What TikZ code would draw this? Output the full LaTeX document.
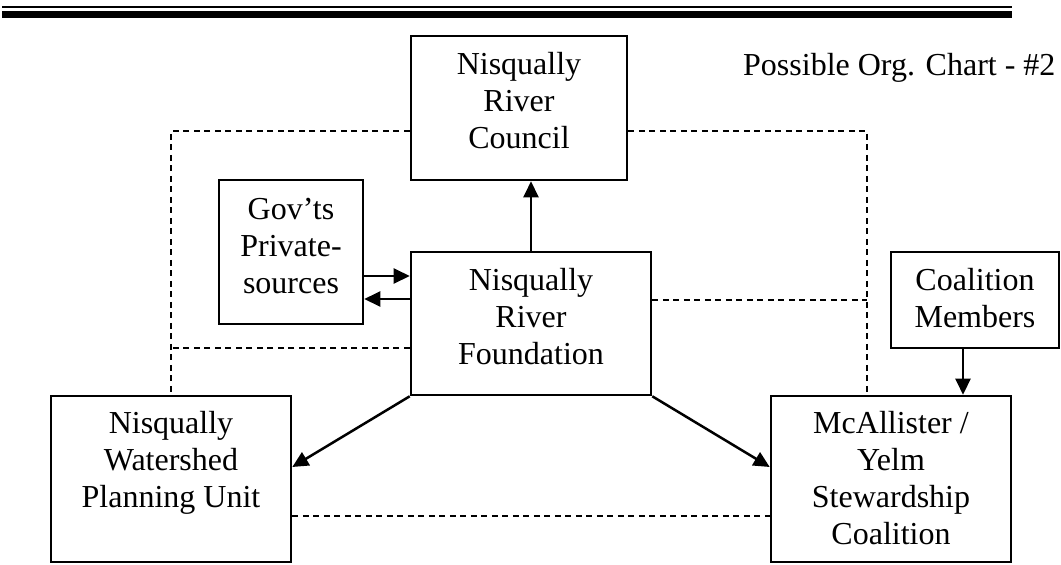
\documentclass[tikz,border=0pt]{standalone}
\usepackage{fontspec}
\setmainfont{Liberation Serif}
\usetikzlibrary{arrows.meta,calc}
\newcommand{\mystack}[1]{\begin{tabular}[t]{@{}c@{}}#1\end{tabular}}
\begin{document}
\begin{tikzpicture}[x=1pt,y=-1pt,
  box/.style={draw,line width=2.6pt,inner sep=0pt},
  lbl/.style={anchor=base,inner sep=0pt,font=\fontsize{32}{37}\selectfont},
  arr/.style={line width=2.5pt,-{Triangle[length=16pt,width=15pt]}},
  dline/.style={line width=1.8pt,dash pattern=on 6pt off 4.5pt}]
\useasboundingbox (0,0) rectangle (1061,565);
% header rules
\fill (2,6) rectangle (1012,8.3);
\fill (2,11) rectangle (1012,18);
% title
\node[anchor=base west,inner sep=0pt,font=\fontsize{32}{37}\selectfont] (title) at (743,75) {Possible Org. Chart - \#2};
% boxes
\node[box,minimum width=216pt,minimum height=144pt] (council) at (519,108) {};
\node[box,minimum width=144pt,minimum height=144pt] (gov) at (291,252) {};
\node[box,minimum width=240pt,minimum height=143pt] (found) at (531,323.5) {};
\node[box,minimum width=168pt,minimum height=96pt] (coal) at (975,300) {};
\node[box,minimum width=240pt,minimum height=166pt] (plan) at (171,479) {};
\node[box,minimum width=240pt,minimum height=166pt] (mca) at (891,479) {};
% labels
\node[lbl] (councilT) at ($(council.north)+(0,40)$) {\mystack{Nisqually\\River\\Council}};
\node[lbl] (govT) at ($(gov.north)+(0,41)$) {\mystack{Gov'ts\\Private-\\sources}};
\node[lbl] (foundT) at ($(found.north)+(0,40)$) {\mystack{Nisqually\\River\\Foundation}};
\node[lbl] (coalT) at ($(coal.north)+(0,40)$) {\mystack{Coalition\\Members}};
\node[lbl] (planT) at ($(plan.north)+(0,39)$) {\mystack{Nisqually\\Watershed\\Planning Unit}};
\node[lbl] (mcaT) at ($(mca.north)+(0,39)$) {\mystack{McAllister /\\Yelm\\Stewardship\\Coalition}};
% helper coordinates
\coordinate (mcaTop) at ($(mca.north)+(-24,0)$);
\coordinate (fw) at ($(found.west)+(0,24.5)$);
\coordinate (fe) at ($(found.east)+(0,-23.5)$);
\coordinate (g1) at ($(gov.east)+(0,24)$);
\coordinate (g2) at ($(gov.east)+(0,47)$);
\coordinate (c1) at ($(coal.south)+(-12,0)$);
% dashed links
\draw[dline] ($(council.west)+(0,23)$) -| (plan.north);
\draw[dline] ($(council.east)+(0,23)$) -| (mcaTop);
\draw[dline] (fw) -- (fw -| plan.north);
\draw[dline] (fe) -- (fe -| mcaTop);
\draw[dline] ($(plan.east)+(0,37)$) -- ($(mca.west)+(0,37)$);
% arrows
\draw[arr] (found.north) -- (found.north |- council.south);
\draw[arr] (g1) -- (g1 -| found.west);
\draw[arr] (g2 -| found.west) -- (g2);
\draw[arr] (found.south west) -- ($(plan.east)+(0,-12)$);
\draw[arr] (found.south east) -- ($(mca.west)+(0,-12)$);
\draw[arr] (c1) -- (c1 |- mca.north);
\end{tikzpicture}
\end{document}
